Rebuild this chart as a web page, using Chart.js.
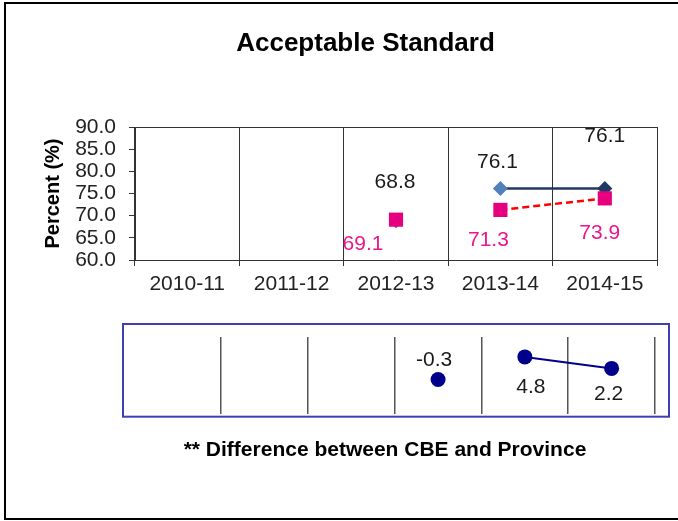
<!DOCTYPE html>
<html><head><meta charset="utf-8">
<script src="https://cdn.jsdelivr.net/npm/chart.js@4/dist/chart.umd.min.js"></script>
<style>
html,body{margin:0;padding:0;background:#fff;}
#page{position:relative;width:678px;height:521px;overflow:hidden;background:#fff;}
#frame{position:absolute;left:4px;top:2px;width:720px;height:518px;border:2px solid #000;box-sizing:border-box;}
#top{position:absolute;left:0;top:0;}
#bottom{position:absolute;left:0;top:300px;}
</style></head><body>
<div id="page"><div id="frame"></div>
<canvas id="top" width="678" height="300"></canvas>
<canvas id="bottom" width="678" height="221"></canvas>
</div>
<script>
// ---- data ----
const categories = ['2010-11', '2011-12', '2012-13', '2013-14', '2014-15'];
const cbeValues = [null, null, 68.8, 76.1, 76.1];
const provinceValues = [null, null, 69.1, 71.3, 73.9];
const yTickValues = [60, 65, 70, 75, 80, 85, 90];
const diffCategories = ['', '2010-11', '2011-12', '2012-13', '2013-14', '2014-15'];
const diffValues = [null, null, null, -0.3, 4.8, 2.2];

const FONT = "'Liberation Sans', Arial, sans-serif";

// draw value labels next to points
const valueLabels = {
  id: 'valueLabels',
  afterDatasetsDraw(chart) {
    const ctx = chart.ctx;
    chart.data.datasets.forEach((ds, i) => {
      if (!ds.labelStyle) return;
      const meta = chart.getDatasetMeta(i);
      ctx.save();
      ctx.font = ds.labelStyle.font;
      ctx.fillStyle = ds.labelStyle.color;
      ctx.textAlign = 'center';
      ctx.textBaseline = 'middle';
      meta.data.forEach((pt, j) => {
        const v = ds.data[j];
        if (v === null || v === undefined) return;
        const off = ds.labelStyle.offsets[j] || [0, 0];
        ctx.fillText(v.toFixed(1), pt.x + off[0], pt.y + off[1]);
      });
      ctx.restore();
    });
  }
};

const topFrame = {
  id: 'topFrame',
  beforeDatasetsDraw(chart) {
    const {ctx, chartArea: a} = chart;
    ctx.save();
    ctx.strokeStyle = '#333';
    ctx.lineWidth = 1;
    ctx.beginPath();
    ctx.moveTo(a.left, a.top + 0.5);
    ctx.lineTo(a.right, a.top + 0.5);
    ctx.stroke();
    ctx.restore();
  }
};

const panelBox = {
  id: 'panelBox',
  beforeDatasetsDraw(chart) {
    const {ctx, chartArea: a} = chart;
    ctx.save();
    ctx.strokeStyle = '#3F3FB5';
    ctx.lineWidth = 2;
    ctx.strokeRect(a.left - 11.4, a.top - 13, (a.right + 14) - (a.left - 11.4), (a.bottom + 2.7) - (a.top - 13));
    ctx.restore();
  }
};

const topJoinFrom = 3;   // first index of the joined run
const diffJoinFrom = 4;

new Chart(document.getElementById('top'), {
  type: 'line',
  data: {
    labels: categories,
    datasets: [
      {
        label: 'Province',
        data: provinceValues,
        borderColor: '#FF0000',
        borderWidth: 2.5,
        borderDash: [7, 4],
        pointStyle: 'rect',
        pointRadius: 10,
        pointHoverRadius: 10,
        pointBackgroundColor: '#E6007E',
        pointBorderColor: '#E6007E',
        pointBorderWidth: 0,
        segment: { borderColor: c => c.p0DataIndex < topJoinFrom ? 'rgba(0,0,0,0)' : undefined },
        labelStyle: { font: '21px ' + FONT, color: '#EC168C', offsets: [null, null, [-33, 25], [-12, 30], [-5, 35]] }
      },
      {
        label: 'CBE',
        data: cbeValues,
        borderColor: '#1F3864',
        borderWidth: 2.5,
        pointStyle: 'rectRot',
        pointRadius: 7.5,
        pointHoverRadius: 7.5,
        pointBackgroundColor: ['#4F81BD', '#4F81BD', '#4F81BD', '#4F81BD', '#1F3864'],
        pointBorderColor: ['#4F81BD', '#4F81BD', '#4F81BD', '#4F81BD', '#1F3864'],
        pointBorderWidth: 0,
        segment: { borderColor: c => c.p0DataIndex < topJoinFrom ? 'rgba(0,0,0,0)' : undefined },
        labelStyle: { font: '21px ' + FONT, color: '#1a1a1a', offsets: [null, null, [-1, -39], [-3, -26], [0, -52]] }
      }
    ]
  },
  options: {
    responsive: false,
    animation: false,
    devicePixelRatio: 1,
    layout: { padding: { left: 74, right: 21, top: 0, bottom: 0 } },
    plugins: {
      legend: { display: false },
      tooltip: { enabled: false },
      title: {
        display: true,
        text: 'Acceptable Standard',
        color: '#000',
        font: { family: FONT, size: 26, weight: 'bold', lineHeight: 1.2 },
        padding: { top: 28.4, bottom: 67.4 }
      }
    },
    scales: {
      x: {
        offset: true,
        grid: { offset: true, color: '#333', lineWidth: 1, drawTicks: true, tickLength: 6 },
        border: { display: true, color: '#333', width: 1 },
        ticks: { color: '#222', font: { family: FONT, size: 21 }, padding: 6, maxRotation: 0, autoSkip: false },
        afterFit: s => { s.height = 40; }
      },
      y: {
        min: 60,
        max: 90,
        afterBuildTicks: s => { s.ticks = yTickValues.map(v => ({ value: v })); },
        grid: { drawOnChartArea: false, color: '#333', drawTicks: true, tickLength: 6 },
        border: { display: true, color: '#333', width: 1 },
        ticks: { color: '#222', font: { family: FONT, size: 21 }, padding: 13, autoSkip: false, callback: v => Number(v).toFixed(1) },
        title: {
          display: true,
          text: 'Percent (%)',
          color: '#000',
          font: { family: FONT, size: 20, weight: 'bold', lineHeight: 1.2 },
          padding: { top: -33, bottom: 0 }
        },
        afterFit: s => { s.width = 61; }
      }
    }
  },
  plugins: [valueLabels, topFrame]
});

new Chart(document.getElementById('bottom'), {
  type: 'line',
  data: {
    labels: diffCategories,
    datasets: [
      {
        label: 'Difference',
        data: diffValues,
        borderColor: '#00008B',
        borderWidth: 2,
        pointStyle: 'circle',
        pointRadius: 7.5,
        pointHoverRadius: 7.5,
        pointBackgroundColor: '#00008B',
        pointBorderColor: '#00008B',
        pointBorderWidth: 0,
        segment: { borderColor: c => c.p0DataIndex < diffJoinFrom ? 'rgba(0,0,0,0)' : undefined },
        labelStyle: { font: '21px ' + FONT, color: '#1a1a1a', offsets: [null, null, null, [-4, -19], [6, 30], [-3, 26]] }
      }
    ]
  },
  options: {
    responsive: false,
    animation: false,
    devicePixelRatio: 1,
    layout: { padding: { left: 115, right: 23, top: 37, bottom: 58.4 } },
    plugins: {
      legend: { display: false },
      tooltip: { enabled: false },
      title: {
        display: true,
        position: 'bottom',
        text: '** Difference between CBE and Province',
        color: '#000',
        font: { family: FONT, size: 21, weight: 'bold', lineHeight: 1.2 },
        padding: { top: 23.4, bottom: 0 }
      }
    },
    scales: {
      x: {
        offset: true,
        grid: { offset: true, drawTicks: false, lineWidth: 1.5, color: c => c.index === 0 ? 'rgba(0,0,0,0)' : '#555' },
        border: { display: false },
        ticks: { display: false },
        afterFit: s => { s.height = 0; }
      },
      y: {
        min: -8.1,
        max: 9.3,
        grid: { display: false },
        border: { display: false },
        ticks: { display: false },
        afterFit: s => { s.width = 19.4; }
      }
    }
  },
  plugins: [valueLabels, panelBox]
});
</script>
</body></html>
